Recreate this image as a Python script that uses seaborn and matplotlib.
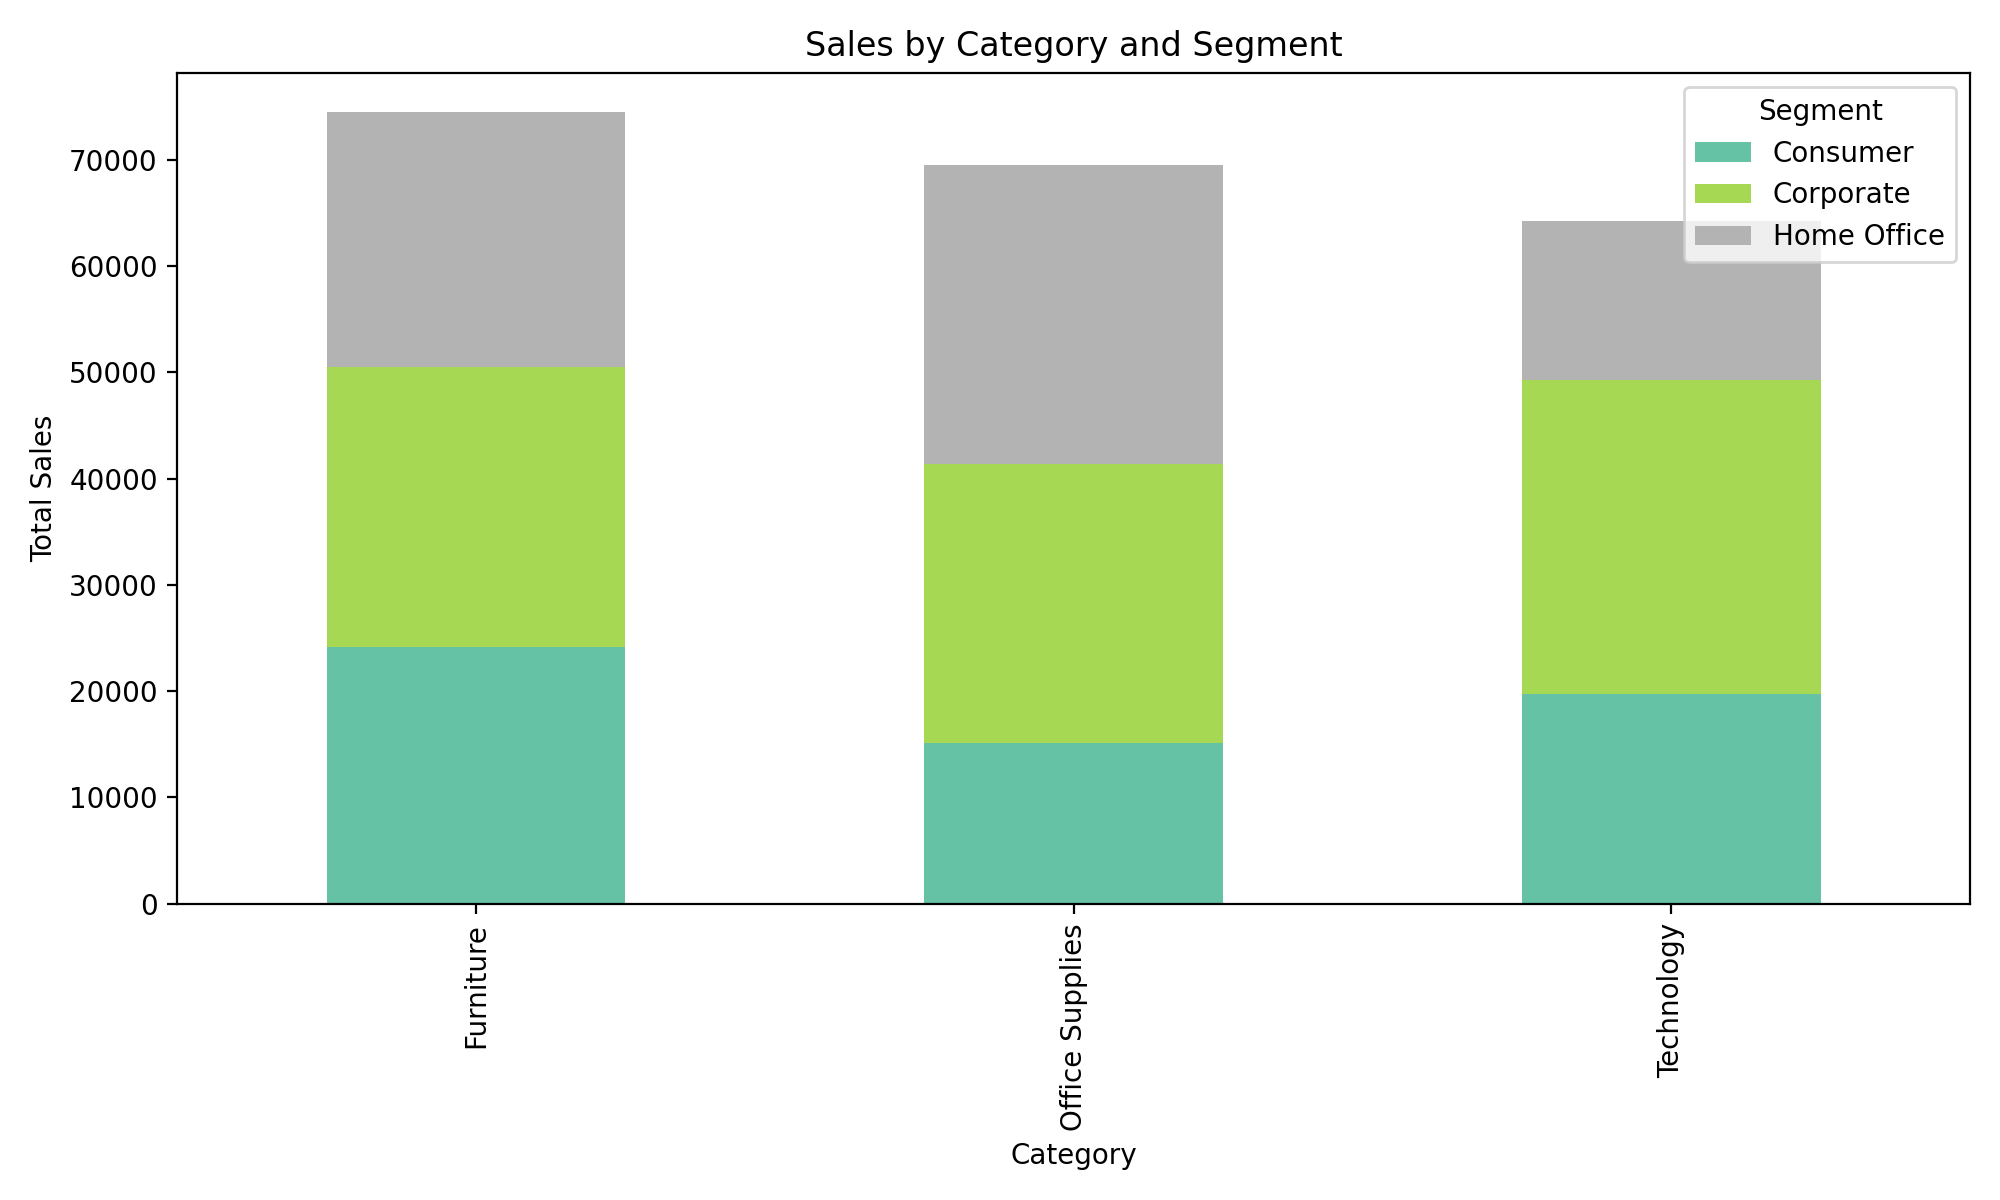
import numpy as np
import pandas as pd
import seaborn as sns
import matplotlib.pyplot as plt

categories = ["Furniture", "Office Supplies", "Technology"]
segments = ["Consumer", "Corporate", "Home Office"]
consumer = [24200, 15150, 19700]
corporate = [26250, 26250, 29600]
home_office = [24000, 28100, 14900]

colors = ["#66c2a5", "#a6d854", "#b3b3b3"]


def main():
    df = pd.DataFrame({"Consumer": consumer, "Corporate": corporate,
                       "Home Office": home_office}, index=categories)
    cum = df.cumsum(axis=1)

    fig, ax = plt.subplots(figsize=(10, 6), dpi=200)
    # draw tallest stack first so lower segments sit on top of it
    for seg, col in reversed(list(zip(segments, colors))):
        sns.barplot(x=categories, y=cum[seg].values, color=col, width=0.5,
                    saturation=1, ax=ax, label=seg)

    handles, labels = ax.get_legend_handles_labels()
    order = [labels.index(s) for s in segments]
    ax.legend([handles[i] for i in order], segments, title="Segment",
              loc="upper right")

    ax.set_title("Sales by Category and Segment")
    ax.set_xlabel("Category")
    ax.set_ylabel("Total Sales")
    ax.tick_params(axis="x", rotation=90)
    plt.tight_layout()
    plt.savefig("out.png", dpi=200)


if __name__ == "__main__":
    main()
